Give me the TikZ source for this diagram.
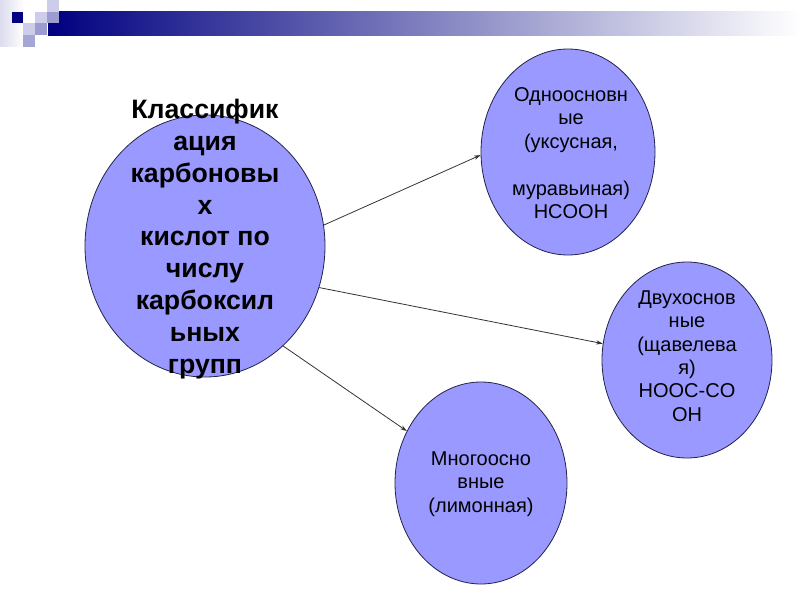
\documentclass[tikz,border=0pt]{standalone}
\usepackage{fontspec}
\setmainfont{Liberation Sans}
\usetikzlibrary{shapes.geometric,arrows.meta}
\definecolor{ovalc}{HTML}{9999FF}
\definecolor{edgec}{HTML}{22224A}
\definecolor{linec}{HTML}{333333}
\definecolor{barnavy}{HTML}{000080}
\definecolor{sqlight}{HTML}{CDCDEB}
\definecolor{sqmed}{HTML}{9C9CD0}
\definecolor{sqpale}{HTML}{DCDCEE}
\begin{document}
\begin{tikzpicture}[x=0.75pt,y=-0.75pt,
  oval/.style={ellipse, draw=edgec, fill=ovalc, line width=0.6pt, inner sep=0pt},
  bigtxt/.style={align=center, font=\fontsize{20}{23.9}\selectfont\bfseries, inner sep=0pt},
  smalltxt/.style={align=center, font=\fontsize{15}{17.6}\selectfont, inner sep=0pt},
  conn/.style={draw=linec, line width=0.6pt, -{Stealth[length=5pt,width=3.2pt]}}]
\useasboundingbox (0,0) rectangle (800,600);
\fill[white] (0,0) rectangle (800,600);
% header decoration
\shade[left color=sqpale, right color=white] (0,0) rectangle (24,46);
\shade[left color=barnavy, right color=white] (48,11.7) rectangle (800,35.1);
\fill[barnavy] (11.7,11.7) rectangle (23.4,23.4);
\fill[sqlight] (35.1,11.7) rectangle (46.8,23.4);
\fill[sqmed] (46.8,11.7) rectangle (58.5,23.4);
\fill[sqlight] (46.8,0) rectangle (58.5,11.7);
\fill[sqlight] (23.4,23.4) rectangle (35.1,35.1);
\fill[sqmed] (35.1,23.4) rectangle (46.8,35.1);
\fill[sqmed!90!white] (23.4,35.1) rectangle (35.1,46.8);
% ellipses
\node[oval, minimum width=180pt, minimum height=196.5pt] (main) at (205,246) {};
\node[oval, minimum width=130.5pt, minimum height=154.5pt] (one) at (568,152) {};
\node[oval, minimum width=127.5pt, minimum height=147pt] (two) at (687,360) {};
\node[oval, minimum width=129pt, minimum height=151.5pt] (many) at (481,483) {};
% texts
\node[bigtxt] (maint) at (205,239) {Классифик\\ация\\карбоновы\\х\\кислот по\\числу\\карбоксил\\ьных\\групп};
\node[smalltxt] (onet) at (571,153) {Одноосновн\\ые\\(уксусная,\\[17.6pt]муравьиная)\\HCOOH};
\node[smalltxt] (twot) at (687,356) {Двухоснов\\ные\\(щавелева\\я)\\HOOC-CO\\OH};
\node[smalltxt] (manyt) at (481,484) {Многоосно\\вные\\(лимонная)};
% connectors
\draw[conn] (main.10) -- (one.182);
\draw[conn] (main.-20) -- (two.169);
\draw[conn] (main.-52) -- (many.145);
\end{tikzpicture}
\end{document}
